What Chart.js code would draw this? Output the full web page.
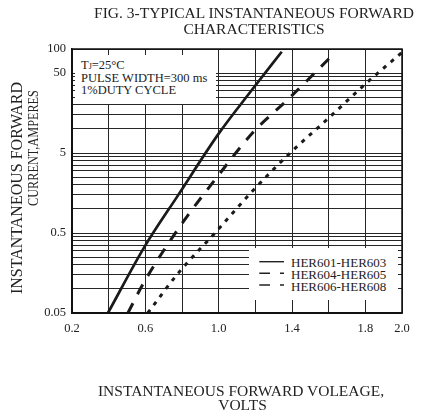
<!DOCTYPE html>
<html>
<head>
<meta charset="UTF-8">
<title>Typical Instantaneous Forward Characteristics</title>
<script src="https://cdn.jsdelivr.net/npm/chart.js@4.4.0/dist/chart.umd.min.js"></script>
<style>
    body {
        margin: 0;
        padding: 0;
        background: #ffffff;
        font-family: 'Liberation Serif', 'DejaVu Serif', serif;
        color: #222;
    }
    #wrap {
        position: relative;
        width: 421px;
        height: 415px;
        overflow: hidden;
    }
    #chart {
        position: absolute;
        left: 0;
        top: 0;
    }
    .txt {
        position: absolute;
        white-space: nowrap;
        line-height: 1;
        transform: translate(-50%, -50%);
    }
    /* white boxes that cover the grid, like the printed figure */
    #noteBox {
        position: absolute;
        left: 75px;
        top: 55px;
        width: 141px;
        height: 49px;
        background: #fff;
        font-size: 12.5px;
        line-height: 12.5px;
    }
    #noteBox div { position: absolute; left: 6px; white-space: nowrap; }
    #legendBox {
        position: absolute;
        left: 249px;
        top: 248px;
        width: 149px;
        height: 52px;
        background: #fff;
        font-size: 13px;
    }
    #legendBox svg { position: absolute; left: 0; top: 0; }
    #legendBox .lab { position: absolute; left: 42px; line-height: 1; white-space: nowrap; transform: translateY(-50%); }
</style>
</head>
<body>
<div id="wrap">
    <canvas id="chart" width="421" height="415"></canvas>

    <div class="txt" style="left:254px; top:13px; font-size:15.5px;">FIG. 3-TYPICAL INSTANTANEOUS FORWARD</div>
    <div class="txt" style="left:254px; top:28.5px; font-size:15.5px;">CHARACTERISTICS</div>

    <div class="txt" style="left:17px; top:188px; font-size:16px; transform: translate(-50%,-50%) rotate(-90deg);">INSTANTANEOUS FORWARD</div>
    <div class="txt" style="left:33px; top:148px; font-size:15.5px; transform: translate(-50%,-50%) rotate(-90deg) scaleX(0.79);">CURRENT,AMPERES</div>

    <div class="txt" style="left:241px; top:391px; font-size:15.5px;">INSTANTANEOUS FORWARD VOLEAGE,</div>
    <div class="txt" style="left:242.5px; top:405px; font-size:15.5px;">VOLTS</div>

    <div id="noteBox">
        <div style="top:4px;">T<span style="font-size:8px;">J</span>=25°C</div>
        <div style="top:17px;">PULSE WIDTH=300 ms</div>
        <div style="top:29px;">1%DUTY CYCLE</div>
    </div>

    <div id="legendBox"></div>
</div>

<script>
// forward voltage (V) / current (A)
var seriesNames = ['HER601-HER603', 'HER604-HER605', 'HER606-HER608'];

var volt601 = [0.396, 0.596, 0.780, 1.002, 1.182, 1.344];
var amp601  = [0.05, 0.338, 1.50, 8.87, 30.9, 92.4];

var volt604 = [0.505, 0.590, 0.782, 0.987, 1.188, 1.385, 1.636];
var amp604  = [0.05, 0.118, 0.574, 2.43, 9.08, 24.3, 90.6];

var volt606 = [0.613, 0.782, 0.987, 1.182, 1.385, 1.600, 1.806, 2.0];
var amp606  = [0.05, 0.160, 0.521, 1.65, 4.89, 13.7, 37.5, 90.6];

// axis grid and labels
var xGrid   = [0.2, 0.4, 0.6, 0.8, 1.0, 1.2, 1.4, 1.6, 1.8, 2.0];
var xLabels = [0.2, 0.6, 1.0, 1.4, 1.8, 2.0];
var yGrid   = [0.05, 0.1, 0.15, 0.2, 0.25, 0.3, 0.35, 0.4, 0.45,
               0.5, 1, 1.5, 2, 2.5, 3, 3.5, 4, 4.5,
               5, 10, 15, 20, 25, 30, 35, 40, 45, 50, 100];
var yLabels = [0.05, 0.5, 5, 50, 100];

function toPoints(xs, ys) {
    var pts = [];
    for (var i = 0; i < xs.length; i++) {
        pts.push({ x: xs[i], y: ys[i] });
    }
    return pts;
}

function isIn(list, v) {
    for (var i = 0; i < list.length; i++) {
        if (Math.abs(list[i] - v) < 1e-6) return true;
    }
    return false;
}

var lineStyles = [
    { dash: [], width: 2.7 },
    { dash: [11, 10], width: 3 },
    { dash: [4, 6], width: 3 }
];

var seriesData = [
    toPoints(volt601, amp601),
    toPoints(volt604, amp604),
    toPoints(volt606, amp606)
];

var datasets = [];
for (var s = 0; s < seriesNames.length; s++) {
    datasets.push({
        label: seriesNames[s],
        data: seriesData[s],
        showLine: true,
        borderColor: '#1a1a1a',
        borderWidth: lineStyles[s].width,
        borderDash: lineStyles[s].dash,
        borderCapStyle: 'butt',
        pointRadius: 0,
        cubicInterpolationMode: 'monotone',
        fill: false
    });
}

var tickFont = { family: "'Liberation Serif', serif", size: 12.5 };

var chart = new Chart(document.getElementById('chart').getContext('2d'), {
    type: 'scatter',
    data: { datasets: datasets },
    options: {
        responsive: false,
        animation: false,
        layout: { padding: { top: 49, right: 19, left: 0, bottom: 0 } },
        plugins: {
            legend: { display: false },
            tooltip: { enabled: false }
        },
        scales: {
            x: {
                type: 'linear',
                min: 0.2,
                max: 2.0,
                afterFit: function (scale) { scale.height = 102; },
                afterBuildTicks: function (scale) {
                    scale.ticks = xGrid.map(function (v) { return { value: v }; });
                },
                ticks: {
                    autoSkip: false,
                    maxRotation: 0,
                    padding: 8,
                    color: '#222',
                    font: tickFont,
                    callback: function (v) { return isIn(xLabels, v) ? v.toFixed(1) : ''; }
                },
                grid: { color: '#262626', lineWidth: 1, drawTicks: false },
                border: { color: '#111', width: 1.5 }
            },
            y: {
                type: 'logarithmic',
                min: 0.05,
                max: 100,
                afterFit: function (scale) { scale.width = 72; },
                afterBuildTicks: function (scale) {
                    scale.ticks = yGrid.map(function (v) { return { value: v }; });
                },
                ticks: {
                    autoSkip: false,
                    padding: 6,
                    color: '#222',
                    font: tickFont,
                    callback: function (v) { return isIn(yLabels, v) ? String(v) : ''; }
                },
                grid: { color: '#262626', lineWidth: 1, drawTicks: false },
                border: { color: '#111', width: 1.5 }
            }
        }
    },
    plugins: [{
        id: 'frame',
        afterDraw: function (c) {
            var a = c.chartArea, ctx = c.ctx;
            ctx.save();
            ctx.strokeStyle = '#111';
            ctx.lineWidth = 1.5;
            ctx.strokeRect(a.left, a.top, a.right - a.left, a.bottom - a.top);
            ctx.restore();
        }
    }]
});

// legend as in the printed figure (both dashed entries drawn alike)
var legendDash = [null, [10.7, 10], [10.7, 10]];
var rowsY = [13.7, 25.3, 37];
var box = document.getElementById('legendBox');
var svg = '<svg width="149" height="52" xmlns="http://www.w3.org/2000/svg">';
for (var r = 0; r < seriesNames.length; r++) {
    var dashAttr = legendDash[r] ? ' stroke-dasharray="' + legendDash[r].join(' ') + '"' : '';
    svg += '<line x1="10.3" y1="' + rowsY[r] + '" x2="35" y2="' + rowsY[r] +
           '" stroke="#222" stroke-width="1.4"' + dashAttr + '/>';
}
svg += '</svg>';
var html = svg;
for (var r2 = 0; r2 < seriesNames.length; r2++) {
    html += '<div class="lab" style="top:' + (rowsY[r2] + 0.5) + 'px;">' + seriesNames[r2] + '</div>';
}
box.innerHTML = html;
</script>
</body>
</html>
